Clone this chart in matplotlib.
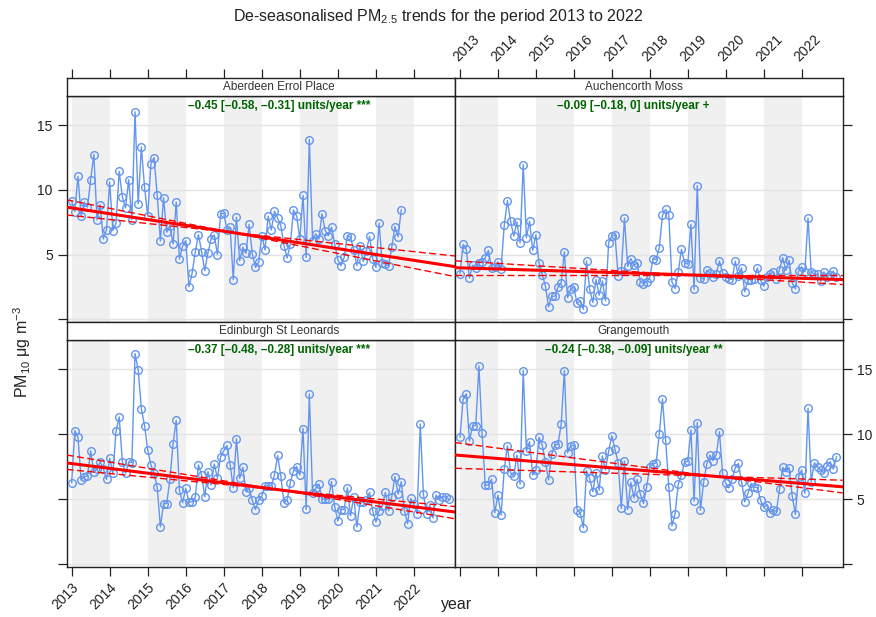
import numpy as np
import matplotlib.pyplot as plt

plt.rcParams['font.family'] = ['Liberation Sans', 'DejaVu Sans']
plt.rcParams['mathtext.fontset'] = 'custom'
plt.rcParams['mathtext.rm'] = 'Liberation Sans'
plt.rcParams['mathtext.it'] = 'Liberation Sans:italic'
plt.rcParams['mathtext.bf'] = 'Liberation Sans:bold'

sites = ['Aberdeen Errol Place', 'Auchencorth Moss',
         'Edinburgh St Leonards', 'Grangemouth']
start_year = 2013
years = list(range(2013, 2023))

# de-seasonalised monthly means, starting Jan 2013
aberdeen = [9.11, 8.33, 11.05, 7.97, 9.06, 8.67, 10.79, 12.73, 7.69, 8.85, 6.21, 6.91,
            10.61, 6.86, 7.43, 11.43, 9.44, 8.62, 10.79, 7.71, 16.03, 8.93, 13.32, 10.22,
            7.97, 12.03, 12.49, 9.57, 6.06, 9.39, 6.73, 7.25, 5.83, 9.06, 4.66, 5.65,
            6.09, 2.52, 3.55, 5.18, 6.55, 5.23, 3.76, 5.13, 6.21, 6.52, 5.00, 8.15,
            8.20, 6.91, 7.12, 3.06, 7.89, 4.53, 5.57, 5.10, 7.33, 5.05, 4.02, 4.41,
            6.47, 5.36, 7.97, 6.91, 8.36, 7.82, 7.25, 5.70, 4.74, 5.83, 8.46, 7.97,
            6.21, 9.57, 4.79, 13.89, 6.09, 6.60, 6.21, 8.15, 6.86, 6.47, 7.12, 5.83,
            4.59, 4.15, 4.79, 6.47, 6.34, 5.39, 4.15, 5.65, 4.48, 5.31, 6.42,
            4.66, 4.02, 7.43, 4.33, 4.28, 4.15, 5.57, 7.17, 6.40, 8.46]
auchencorth = [3.54, 5.79, 5.41, 3.21, 4.18, 4.00, 4.36, 4.44, 4.77, 5.33, 3.97, 4.05,
               4.44, 3.92, 7.26, 9.18, 7.59, 6.44, 7.51, 5.90, 11.95, 6.31, 7.59, 5.33,
               6.54, 4.36, 3.46, 2.59, 0.97, 1.79, 1.79, 2.51, 2.82, 5.21, 1.69, 2.31,
               2.51, 1.23, 1.41, 0.79, 4.51, 2.33, 1.31, 3.08, 1.87, 2.97, 1.44, 5.92,
               6.44, 6.54, 3.36, 3.74, 7.82, 4.10, 4.69, 4.18, 4.36, 2.90, 2.77, 2.90,
               3.23, 4.69, 4.62, 5.54, 8.03, 8.49, 8.10, 2.90, 2.38, 3.67, 5.41, 4.36,
               4.26, 7.33, 2.33, 10.33, 3.23, 3.10, 3.79, 3.62, 3.28, 3.54, 4.51, 3.59,
               3.28, 3.15, 3.08, 4.49, 3.33, 3.97, 2.13, 3.08, 3.08, 3.15, 3.97, 3.03,
               2.56, 3.28, 3.49, 3.67, 3.15, 3.85, 4.77, 3.79, 4.56, 2.82, 2.36, 3.72,
               4.05, 3.67, 7.82, 3.67, 3.49, 3.49, 2.95, 3.67, 3.28, 3.44, 3.72, 3.28]
edinburgh = [6.27, 10.27, 9.75, 6.47, 6.73, 6.78, 8.72, 7.07, 7.30, 7.89, 7.33, 6.52,
             8.15, 6.99, 10.22, 11.33, 7.89, 6.99, 7.84, 7.82, 16.21, 14.95, 11.95, 10.66,
             8.80, 7.64, 6.99, 5.90, 2.86, 4.66, 4.66, 6.52, 9.26, 11.07, 5.70, 4.72,
             5.83, 4.79, 4.79, 5.13, 7.64, 6.86, 5.18, 7.12, 6.09, 7.71, 6.60, 8.28,
             8.72, 9.13, 7.64, 5.88, 9.65, 6.60, 7.45, 5.57, 5.83, 4.92, 4.20, 4.92,
             5.23, 6.03, 6.01, 6.03, 6.86, 8.36, 6.78, 4.72, 4.92, 6.27, 7.20, 7.51,
             6.86, 10.43, 4.22, 13.11, 5.49, 5.83, 6.16, 5.00, 5.00, 5.00, 6.34, 4.41,
             3.32, 4.20, 4.20, 5.88, 3.71, 5.18, 2.86, 4.79, 4.79, 4.92, 5.52, 4.07,
             3.24, 4.10, 4.48, 5.52, 4.10, 5.18, 6.73, 5.39, 6.34, 4.10, 3.11, 5.05,
             4.59, 3.89, 10.79, 5.36, 3.89, 4.53, 3.55, 5.31, 4.97, 5.18, 5.18, 5.00]
grangemouth = [9.76, 12.69, 13.10, 9.47, 10.63, 10.66, 15.26, 10.06, 6.08, 6.08, 6.52, 3.95,
               5.31, 3.77, 7.31, 9.11, 7.03, 6.77, 8.39, 6.16, 14.90, 8.70, 9.42, 6.85,
               7.24, 9.76, 9.16, 7.88, 6.47, 8.47, 9.16, 9.22, 10.78, 14.90, 8.57, 9.11,
               9.16, 4.20, 3.95, 2.79, 7.19, 6.59, 5.57, 7.03, 5.69, 8.32, 7.24, 8.70,
               9.88, 8.83, 7.80, 4.28, 7.93, 4.20, 6.29, 5.10, 6.52, 5.39, 4.67, 5.95,
               7.49, 7.70, 7.80, 10.01, 12.71, 9.55, 5.95, 2.94, 3.89, 6.16, 6.85, 7.88,
               7.90, 10.32, 4.85, 10.89, 4.15, 6.29, 7.70, 8.39, 7.96, 8.39, 10.19, 6.98,
               6.21, 5.87, 6.52, 7.42, 7.75, 6.34, 4.79, 5.44, 6.21, 5.95, 5.87, 4.92,
               4.36, 4.54, 3.97, 4.15, 4.07, 5.75, 7.44, 7.11, 7.42, 5.23, 3.84, 6.72,
               7.24, 5.44, 11.99, 6.34, 7.80, 7.49, 7.24, 7.03, 7.57, 7.88, 7.31, 8.26]
series = [aberdeen, auchencorth, edinburgh, grangemouth]

# Theil-Sen slope (units/year) with 95% interval, and the point the lines pass through
slope = [-0.45, -0.09, -0.37, -0.24]
slope_lo = [-0.58, -0.18, -0.48, -0.38]
slope_hi = [-0.31, 0.0, -0.28, -0.09]
mid_year = [2017.2, 2018.8, 2018.4, 2019.7]
mid_value = [6.72, 3.46, 5.74, 6.76]
stars = ['***', '+', '***', '**']

W, H = 876, 617


def box(x0, y0, x1, y1):
    return [x0 / W, 1 - y1 / H, (x1 - x0) / W, (y1 - y0) / H]


def fmt(v):
    return '0' if v == 0 else f'{v:.2f}'.replace('-', '\u2013')


xlim = (2012.87, 2023.08)
ylim = (-0.2, 17.25)
cols = [(66.7, 455), (455, 842.7)]
rows = [((78, 96), (96, 322)), ((322, 340), (340, 566.7))]
text_x = [0.547, 0.461]
edge = '#222222'

fig = plt.figure(figsize=(8.76, 6.17), dpi=100)

for i, name in enumerate(sites):
    r, c = divmod(i, 2)
    (sy0, sy1), (py0, py1) = rows[r]
    x0, x1 = cols[c]

    ax = fig.add_axes(box(x0, py0, x1, py1))
    ax.set_xlim(*xlim)
    ax.set_ylim(*ylim)
    for yr in range(2013, 2023, 2):
        ax.axvspan(yr, yr + 1, color='#f0f0f0', lw=0, zorder=0)
    for g in [0, 5, 10, 15]:
        ax.axhline(g, color='#e3e3e3', lw=1, zorder=1)

    vals = np.array(series[i])
    t = start_year + np.arange(len(vals)) / 12
    ax.plot(t, vals, color='#6495ED', lw=1, marker='o', ms=5.5, mfc='none',
            mec='#6495ED', mew=1, zorder=3)

    xs = np.array(xlim)
    ax.plot(xs, mid_value[i] + slope[i] * (xs - mid_year[i]), color='red', lw=2.2, zorder=4)
    for s in (slope_lo[i], slope_hi[i]):
        ax.plot(xs, mid_value[i] + s * (xs - mid_year[i]), color='red', lw=1,
                ls=(0, (5, 2.5)), zorder=4)

    label = f'{fmt(slope[i])} [{fmt(slope_lo[i])}, {fmt(slope_hi[i])}] units/year {stars[i]}'
    ax.text(text_x[c], 0.955, label, transform=ax.transAxes, ha='center', va='center',
            color='#006400', fontsize=8.5, fontweight='bold')

    for sp in ax.spines.values():
        sp.set_color(edge)
        sp.set_linewidth(1)

    ax.set_yticks([0, 5, 10, 15])
    ax.set_xticks(years)
    ax.tick_params(direction='out', length=6.5, width=0.9, color=edge,
                   labelsize=10, labelcolor='#222222')
    if c == 0:
        ax.tick_params(axis='y', left=True, right=False, labelleft=(r == 0), labelright=False)
    else:
        ax.tick_params(axis='y', left=False, right=True, labelleft=False, labelright=(r == 1))
    ax.set_yticklabels(['', '5', '10', '15'])
    if r == 1:
        ax.tick_params(axis='x', bottom=True, labelbottom=(c == 0))
        if c == 0:
            ax.set_xticklabels([str(y) for y in years], rotation=45, ha='right',
                               rotation_mode='anchor')
    else:
        ax.tick_params(axis='x', bottom=False, labelbottom=False)

    # strip with the site name
    st = fig.add_axes(box(x0, sy0, x1, sy1))
    st.set_xlim(*xlim)
    st.set_yticks([])
    st.set_facecolor('white')
    for sp in st.spines.values():
        sp.set_color(edge)
        sp.set_linewidth(1)
    st.text(text_x[c], 0.5, name, transform=st.transAxes, ha='center', va='center',
            fontsize=8.5, color='#333333')
    st.set_xticks(years)
    if r == 0:
        st.tick_params(axis='x', top=True, bottom=False, labelbottom=False,
                       labeltop=(c == 1), direction='out', length=6.5, width=0.9,
                       color=edge, labelsize=10, labelcolor='#222222')
        if c == 1:
            st.set_xticklabels([str(y) for y in years], rotation=45, ha='left',
                               rotation_mode='anchor')
    else:
        st.tick_params(axis='x', bottom=False, labelbottom=False)

fig.text(0.5, 1 - 17 / H, r'De-seasonalised PM$_{2.5}$ trends for the period 2013 to 2022',
         ha='center', va='center', fontsize=11.5, color='#222222')
fig.text(22 / W, 1 - 352 / H, r'PM$_{10}$ μg m$^{-3}$', rotation=90,
         ha='center', va='center', fontsize=11.5, color='#222222')
fig.text(457 / W, 1 - 605 / H, 'year', ha='center', va='center', fontsize=11.5,
         color='#222222')

fig.savefig('out.png', dpi=100)
